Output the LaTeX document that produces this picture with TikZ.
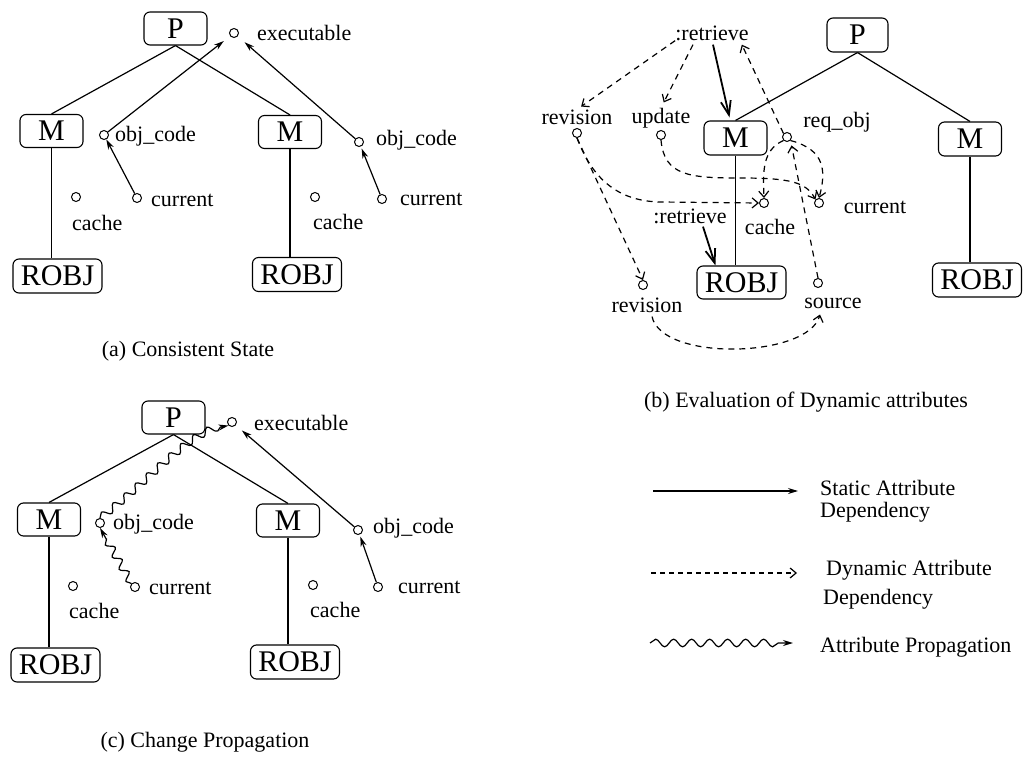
\documentclass[tikz,border=0pt]{standalone}
\usepackage{fontspec}
\setmainfont{Liberation Serif}
\usetikzlibrary{arrows.meta,decorations.pathmorphing,calc}
\newcommand\boxfont{\fontsize{30}{34}\selectfont}
\newcommand\lblfont{\fontsize{22}{26}\selectfont}
\begin{document}
\begin{tikzpicture}[x=1pt,y=-1pt,
  objbox/.style={draw, rounded corners=6pt, line width=1.1pt, font=\boxfont,
    inner sep=0pt, minimum width=63pt, minimum height=33pt},
  robj/.style={objbox, minimum width=89pt, minimum height=34pt},
  attr/.style={circle, draw, line width=1pt, minimum size=9pt, inner sep=0pt},
  lbl/.style={font=\lblfont, inner sep=0pt},
  tree/.style={line width=1.2pt},
  static/.style={line width=1.2pt, -{Stealth[length=10pt,width=6pt]}},
  dyn/.style={line width=1.2pt, dash pattern=on 6pt off 5pt,
    -{Straight Barb[length=6pt,width=10pt]}},
  retr/.style={line width=1.8pt, -{Straight Barb[length=14pt,width=10pt]}},
  wavy/.style={line width=1.2pt, decorate,
    decoration={snake, amplitude=3.8pt, segment length=15pt, post length=7pt},
    -{Stealth[length=10pt,width=6pt]}}]
\useasboundingbox (0,0) rectangle (1027,759);

% ---------- (a) Consistent State ----------
\node[objbox] (aP) at (175.5,28.5) {P};
\node[attr] (aexe) at (234,33) {};
\node[lbl, anchor=west] (aexeL) at (257,33) {executable};
\node[objbox] (aM1) at (51.5,131) {M};
\node[objbox] (aM2) at (290,132) {M};
\node[attr] (aoc1) at (104,135) {};
\node[lbl, anchor=west] (aoc1L) at (115,136) {obj\_code};
\node[attr] (aoc2) at (359,142) {};
\node[lbl, anchor=west] (aoc2L) at (376,140) {obj\_code};
\node[attr] (aca1) at (76,197) {};
\node[lbl, anchor=west] (aca1L) at (72,223) {cache};
\node[attr] (acu1) at (137,198) {};
\node[lbl, anchor=west] (acu1L) at (151,200) {current};
\node[attr] (aca2) at (315,197) {};
\node[lbl, anchor=west] (aca2L) at (313,222) {cache};
\node[attr] (acu2) at (382,199) {};
\node[lbl, anchor=west] (acu2L) at (400,199) {current};
\node[robj] (aR1) at (57.5,276) {ROBJ};
\node[robj] (aR2) at (297,274.5) {ROBJ};
\draw[tree] (aP.south) -- (aM1.north);
\draw[tree] (aP.south) -- (aM2.north);
\draw[tree] (aM1.south) -- (aM1.south |- aR1.north);
\draw[tree] (aM2.south) -- (aM2.south |- aR2.north);
\draw[static, shorten >=8pt] (aoc1) -- (aexe);
\draw[static, shorten >=9pt] (aoc2) -- (aexe);
\draw[static] (acu1) -- (aoc1);
\draw[static, shorten >=2pt] (acu2) -- (aoc2);
\node[lbl] (capA) at (188,351) {(a) Consistent State};

% ---------- (c) Change Propagation ----------
\node[objbox] (cP) at (173.5,417.5) {P};
\node[attr] (cexe) at (232,422) {};
\node[lbl, anchor=west] (cexeL) at (254,423) {executable};
\node[objbox] (cM1) at (49,519.5) {M};
\node[objbox] (cM2) at (288,520.5) {M};
\node[attr] (coc1) at (100,523) {};
\node[lbl, anchor=west] (coc1L) at (113,524) {obj\_code};
\node[attr] (coc2) at (358,530) {};
\node[lbl, anchor=west] (coc2L) at (373,528) {obj\_code};
\node[attr] (cca1) at (73,586) {};
\node[lbl, anchor=west] (cca1L) at (69,611) {cache};
\node[attr] (ccu1) at (135,587) {};
\node[lbl, anchor=west] (ccu1L) at (149,588) {current};
\node[attr] (cca2) at (313,585) {};
\node[lbl, anchor=west] (cca2L) at (310,610) {cache};
\node[attr] (ccu2) at (378,587) {};
\node[lbl, anchor=west] (ccu2L) at (398,587) {current};
\node[robj] (cR1) at (55.5,665) {ROBJ};
\node[robj] (cR2) at (295,662) {ROBJ};
\draw[tree] (cP.south) -- (cM1.north);
\draw[tree] (cP.south) -- (cM2.north);
\draw[tree] (cM1.south) -- (cM1.south |- cR1.north);
\draw[tree] (cM2.south) -- (cM2.south |- cR2.north);
\draw[wavy] (coc1.north) .. controls (150,480) and (185,432) .. (cexe.south west);
\draw[static, shorten >=8pt] (coc2) -- (cexe);
\draw[wavy, decoration={segment length=14pt, amplitude=3.8pt, post length=6pt}]
  (ccu1.north west) -- (coc1.south);
\draw[static, shorten >=2pt] (ccu2) -- (coc2);
\node[lbl] (capC) at (205,742) {(c) Change Propagation};

% ---------- (b) Evaluation of Dynamic attributes ----------
\node[lbl] (bret1) at (712,33) {:retrieve};
\node[objbox, minimum width=61pt, minimum height=34pt] (bP) at (857.5,35) {P};
\node[lbl] (brev1) at (577,117) {revision};
\node[attr] (brev1c) at (577,133) {};
\node[lbl] (bupd) at (661,118) {update};
\node[attr] (bupdc) at (661,135) {};
\node[objbox, minimum height=34pt] (bM1) at (735.5,138) {M};
\node[lbl] (breq) at (837,122) {req\_obj};
\node[attr] (breqc) at (787,137) {};
\node[objbox, minimum height=34pt] (bM2) at (970,139) {M};
\node[attr] (bcachec) at (764,203) {};
\node[lbl] (bcache) at (770,227) {cache};
\node[attr] (bcurc) at (819,203) {};
\node[lbl] (bcur) at (875,207) {current};
\node[lbl] (bret2) at (690,216) {:retrieve};
\node[robj, minimum height=33pt] (bR1) at (741.5,282.5) {ROBJ};
\node[robj] (bR2) at (977,280) {ROBJ};
\node[attr] (brev2c) at (643,285) {};
\node[lbl] (brev2) at (647,305) {revision};
\node[attr] (bsrcc) at (818,283) {};
\node[lbl] (bsrc) at (833,303) {source};
\draw[tree] (bP.south) -- (bM1.north);
\draw[tree] (bP.south) -- (bM2.north);
\draw[tree] (bM1.south) -- (bM1.south |- bR1.north);
\draw[tree] (bM2.south) -- (bM2.south |- bR2.north);
\draw[retr] ($(bret1.south)+(1,4)$) -- ($(bM1.north)+(-6,-3)$);
\draw[retr] ($(bret2.south)+(13,3)$) -- ($(bR1.north west)+(19,0)$);
\draw[dyn, shorten >=5pt] (bret1.south west) -- (brev1.north);
\draw[dyn, shorten >=6pt] ($(bret1.south)+(-19,4)$) -- (bupd.north);
\draw[dyn] (breqc.north west) -- ($(bret1.south east)+(-7,4)$);
\draw[dyn] (bupdc.south) .. controls (664,176) and (690,178) .. (740,178)
  .. controls (790,178) and (806,182) .. (bcurc.north west);
\draw[dyn] (brev1c.south) .. controls (590,172) and (612,201) .. (660,202)
  -- (bcachec.west);
\draw[dyn] (brev1c.south) -- (brev2c.north);
\draw[dyn] (breqc.south west) .. controls (762,150) and (763,172) .. (bcachec.north);
\draw[dyn] (breqc.south east) .. controls (826,150) and (826,172) .. (bcurc.north);
\draw[dyn, shorten >=5pt] (bsrcc.north) -- (breqc.south east);
\draw[dyn] ($(brev2.south)+(5,4)$) .. controls (662,362) and (808,358)
  .. ($(bsrc.south)+(-13,6)$);
\node[lbl] (capB) at (806,402) {(b) Evaluation of Dynamic attributes};

% ---------- legend ----------
\coordinate (ls1) at (653,491);
\coordinate (ls2) at (798,491);
\draw[static] (ls1) -- (ls2);
\node[lbl, anchor=west] (lsT1) at (820,488) {Static Attribute};
\node[lbl, anchor=west] (lsT2) at (820,512) {Dependency};
\coordinate (ld1) at (651,573);
\coordinate (ld2) at (797,573);
\draw[dyn, dash pattern=on 5pt off 4pt] (ld1) -- (ld2);
\node[lbl, anchor=west] (ldT1) at (826,570) {Dynamic Attribute};
\node[lbl, anchor=west] (ldT2) at (823,599) {Dependency};
\coordinate (lw1) at (650,643);
\coordinate (lw2) at (793,643);
\draw[wavy, decoration={segment length=18pt, amplitude=3.8pt, post length=8pt}] (lw1) -- (lw2);
\node[lbl, anchor=west] (lwT) at (820,647) {Attribute Propagation};
\end{tikzpicture}
\end{document}
